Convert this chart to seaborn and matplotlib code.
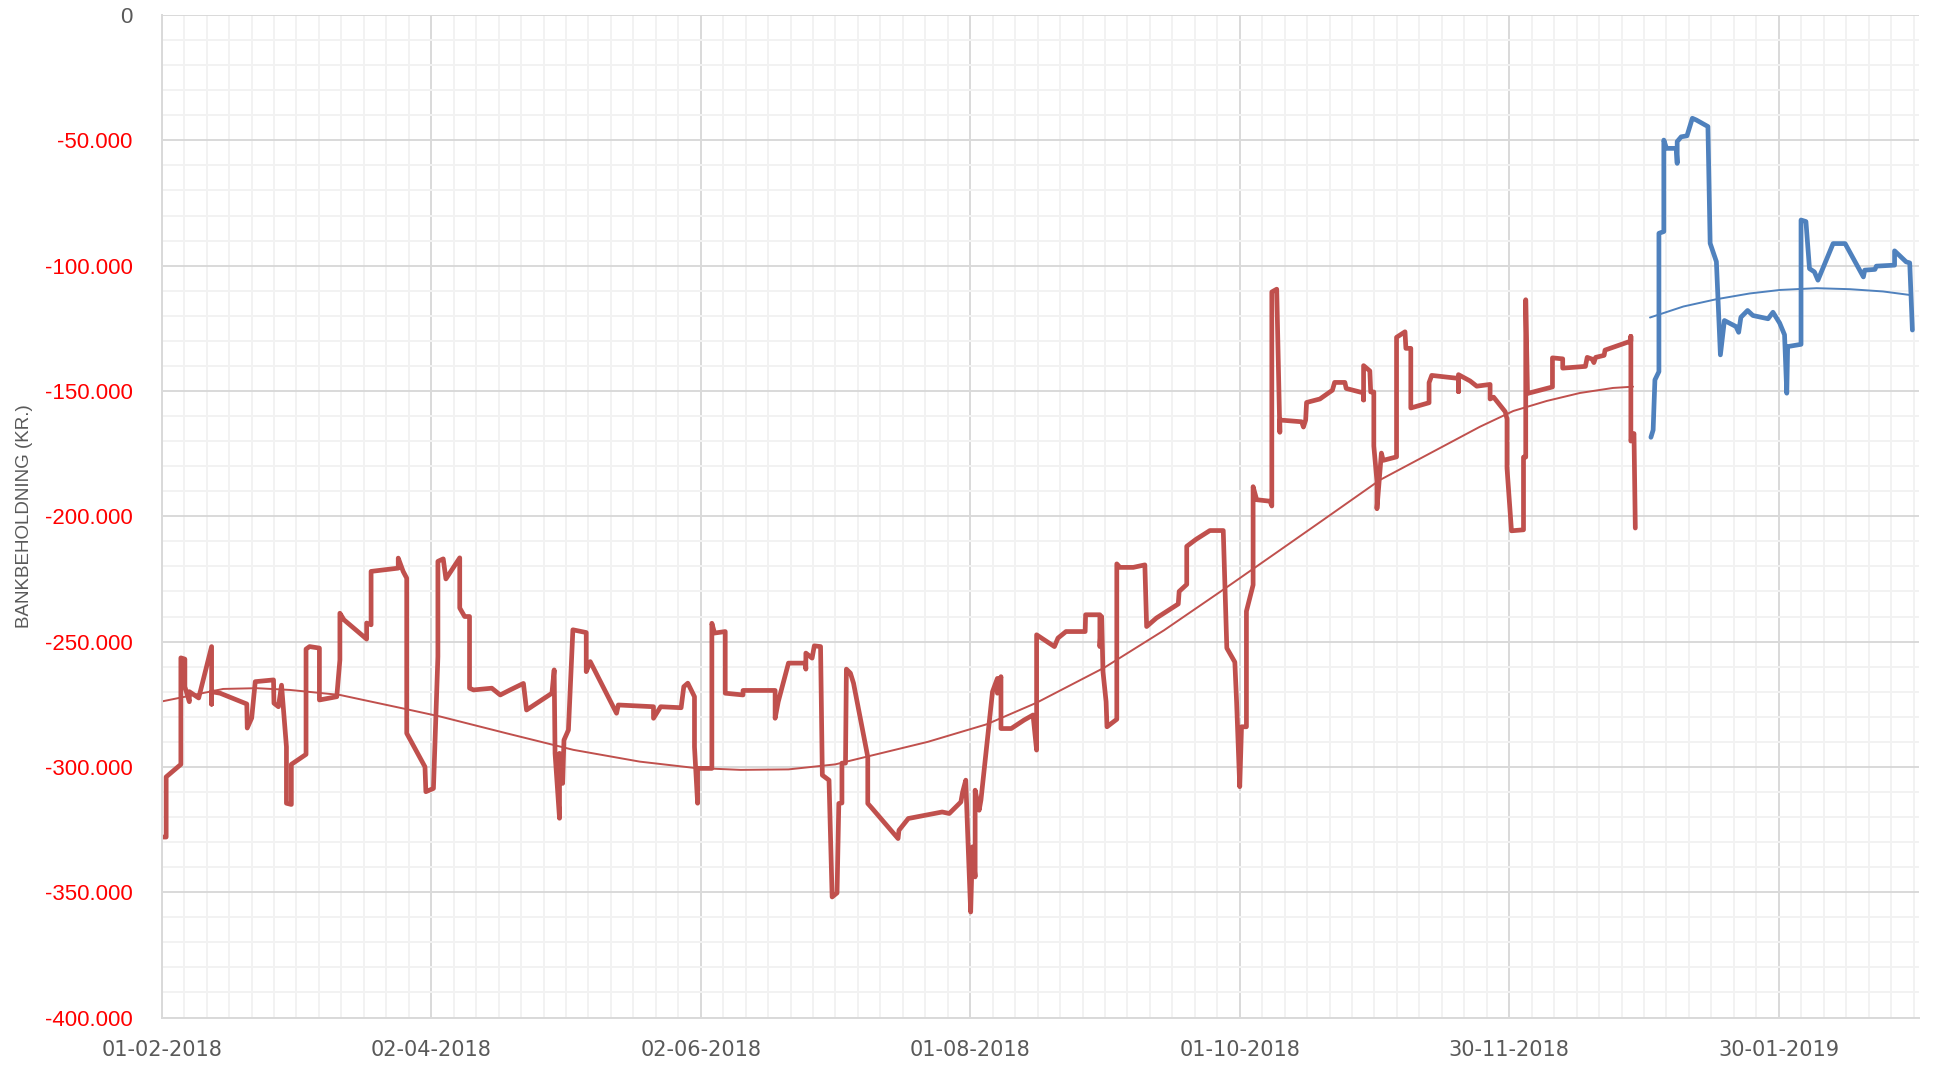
import numpy as np
import pandas as pd
import matplotlib
matplotlib.use('Agg')
import matplotlib.pyplot as plt
import matplotlib.dates as mdates
from matplotlib.ticker import FixedLocator
import seaborn as sns

start = pd.Timestamp('2018-02-01')

# bankbeholdning 2018 (dage efter 01-02-2018, saldo i 1000 kr.)
red_dage = [0.4, 1.0, 1.0, 4.3, 4.3, 5.2, 5.2, 6.2, 6.2, 8.3, 11.2, 11.2, 11.2, 13.1, 19.1, 19.2, 20.2, 21.0,
            25.1, 25.2, 26.2, 26.9, 28.0, 28.0, 29.1, 29.1, 32.4, 32.4, 33.2, 35.4, 35.4, 39.3, 40.0, 40.0,
            40.9, 46.0, 46.0, 47.0, 47.0, 53.1, 53.1, 54.2, 55.0, 55.0, 59.1, 59.3, 61.0, 62.0, 62.0, 63.2,
            63.8, 66.9, 66.9, 68.0, 69.1, 69.1, 70.0, 74.1, 76.0, 78.2, 81.2, 81.9, 87.6, 88.1, 88.3, 89.3,
            89.3, 90.0, 90.3, 91.3, 92.3, 95.3, 95.3, 96.2, 102.1, 102.5, 110.4, 110.4, 112.0, 116.6, 117.2,
            118.1, 119.6, 119.6, 120.3, 120.3, 123.5, 123.5, 124.1, 126.5, 126.5, 130.5, 130.5, 137.7, 137.7,
            138.4, 140.7, 144.5, 144.6, 144.6, 146.0, 146.5, 147.9, 148.3, 149.8, 150.5, 151.6, 152.0, 152.7,
            152.7, 153.5, 153.7, 154.6, 155.3, 158.5, 158.5, 159.5, 165.3, 165.5, 167.6, 175.2, 176.8, 179.4,
            179.8, 180.5, 180.9, 181.6, 182.0, 182.6, 182.6, 183.5, 183.9, 186.5, 187.6, 187.6, 188.4, 188.4,
            190.7, 193.6, 195.6, 196.4, 196.4, 200.4, 201.2, 203.0, 207.3, 207.4, 210.6, 210.6, 211.0, 211.3,
            212.0, 212.2, 214.4, 214.4, 215.1, 218.1, 220.7, 221.1, 223.3, 228.2, 228.4, 230.1, 230.1, 232.2,
            235.3, 238.3, 239.1, 240.9, 241.3, 242.0, 242.4, 243.5, 243.5, 244.1, 245.0, 245.0, 245.8, 248.8,
            249.2, 249.2, 250.3, 251.0, 251.0, 255.9, 256.3, 256.8, 257.0, 260.0, 262.8, 263.3, 265.6, 265.9,
            269.8, 269.8, 269.8, 271.2, 271.4, 272.1, 272.1, 272.8, 272.8, 273.8, 274.2, 277.2, 277.2, 279.1,
            279.3, 280.4, 280.4, 284.5, 284.5, 285.1, 291.1, 291.1, 291.1, 293.7, 295.2, 298.2, 298.2, 299.0,
            301.6, 302.0, 302.0, 303.0, 305.7, 305.7, 306.2, 306.2, 306.6, 312.2, 312.2, 314.5, 314.5, 319.6,
            320.0, 321.1, 321.5, 321.9, 323.8, 324.0, 329.8, 329.8, 329.8, 330.5, 330.8]
red_saldo = [-328, -328, -304, -299, -256.5, -257, -268, -274, -270, -272.5, -252, -275, -270, -270.6, -274.9,
             -284.5, -280.5, -266, -265.3, -274.6, -276, -267.4, -292, -314.5, -315, -299, -295, -253, -252,
             -252.6, -273.3, -272, -257.3, -238.7, -241.3, -249, -242.6, -243.3, -222, -220.7, -216.7, -222,
             -224.7, -286.6, -300, -309.9, -308.6, -256, -218, -217, -225, -216.6, -236.6, -240, -240, -268.6,
             -269.3, -268.6, -271.3, -269.3, -266.7, -277.3, -270.6, -261.3, -294.6, -320.5, -294.6, -306.6,
             -289.3, -285.3, -245.3, -246.4, -262, -258, -278.6, -275.3, -276, -280.6, -276, -276.4, -268,
             -266.6, -272, -292, -314.5, -300.6, -300.6, -242.7, -246.6, -246, -270.6, -271.3, -269.5, -269.5,
             -280.6, -274, -258.6, -258.6, -261, -254.6, -256.6, -251.7, -252, -303.3, -305.3, -351.9, -350.3,
             -314.6, -314.4, -298.5, -298.5, -261, -262.6, -266.6, -296, -314.6, -316.6, -328.6, -325.3,
             -320.6, -318, -318.6, -314, -310, -305.3, -325.3, -357.9, -331.9, -343.9, -309.3, -317.3, -313.3,
             -270, -264.7, -270.6, -264, -284.7, -284.7, -281.3, -279.3, -293.3, -247.3, -252, -248.6, -246,
             -246, -239.3, -239.3, -252, -240, -262, -274, -284, -281, -219, -220.4, -220.4, -219.4, -244,
             -240.6, -235, -230, -227.2, -212, -209.2, -205.7, -205.7, -252.6, -258.2, -274.3, -307.9, -284,
             -284, -237.9, -233.7, -227.4, -188.2, -193.4, -194, -195.9, -110.5, -109.4, -166.5, -161.6,
             -162.3, -164.4, -161.6, -154.6, -153.2, -149.7, -146.6, -146.6, -149, -150.8, -153.6, -139.9,
             -142, -150.4, -150.4, -172, -186, -197, -174.8, -177.7, -176.3, -128.6, -126.4, -133, -133,
             -156.8, -154.7, -146.7, -143.8, -145, -150.3, -143.5, -146, -148.1, -147.4, -153.2, -152.5,
             -158.3, -161.2, -180.8, -205.8, -205.4, -176.4, -176.4, -113.6, -151, -148.4, -136.8, -137.2,
             -140.9, -140.2, -136.6, -137.3, -138.7, -136.6, -135.8, -133.7, -130.1, -128.2, -170, -167,
             -204.7]

# bankbeholdning 2019
blue_dage = [334.3, 334.8, 335.2, 336.1, 336.1, 337.2, 337.2, 337.8, 340.0, 340.2, 340.2, 341.1, 342.4, 343.6,
             344.5, 347.1, 347.6, 349.0, 349.9, 350.8, 353.4, 354.0, 354.5, 356.0, 357.2, 360.6, 361.7, 363.2,
             364.3, 364.8, 365.0, 368.0, 368.0, 369.1, 369.9, 371.0, 371.8, 375.2, 377.9, 382.0, 382.3, 384.6,
             384.9, 389.0, 389.0, 391.6, 392.4, 393.0]
blue_saldo = [-168.5, -165.6, -145.6, -142.3, -87.1, -86.4, -49.9, -53.2, -53.2, -59.2, -50.5, -48.6, -48.2,
              -41.2, -41.9, -44.5, -91.1, -98.4, -135.6, -121.9, -124.3, -126.6, -120.6, -117.9, -119.9, -121.2,
              -118.6, -122.9, -127.6, -150.9, -132.3, -131.4, -81.8, -82.4, -101.2, -102.5, -105.8, -91.2,
              -91.2, -104.5, -101.8, -101.5, -100.2, -99.8, -94.1, -98.5, -98.9, -125.7]

# tendenslinjer
trend_red_dage = [0.0, 13.8, 21.3, 28.8, 40.0, 55.0, 62.5, 77.4, 92.4, 107.3, 119.5, 130.0, 140.7, 151.2, 158.8,
                  172.0, 185.2, 196.4, 211.6, 225.0, 238.3, 250.0, 260.7, 273.5, 284.7, 295.9, 303.4, 310.9,
                  318.4, 325.8, 330.3]
trend_red_saldo = [-273.9, -268.9, -268.6, -269.3, -271.3, -277, -279.9, -286.6, -293.2, -297.9, -300.4, -301.2,
                   -301, -299, -295.7, -290, -283, -274.4, -260.4, -245.5, -229.3, -214.8, -201.5, -185.5, -174.9,
                   -164.3, -158, -154, -150.8, -148.8, -148.3]
trend_blue_dage = [334.1, 341.6, 349.0, 356.5, 363.3, 371.5, 379.0, 386.4, 392.4]
trend_blue_saldo = [-120.7, -116.3, -113.4, -111.1, -109.7, -109.0, -109.4, -110.3, -111.7]

y_ticks = [0, -50000, -100000, -150000, -200000, -250000, -300000, -350000, -400000]
x_labels = ['01-02-2018', '02-04-2018', '02-06-2018', '01-08-2018', '01-10-2018', '30-11-2018', '30-01-2019']

farver = {'2018': '#C0504D', '2019': '#4F81BD'}


def lav_df(dage, saldo, serie):
    return pd.DataFrame({'dato': start + pd.to_timedelta(dage, unit='D'),
                         'saldo': np.array(saldo) * 1000,
                         'serie': serie})


saldo = pd.concat([lav_df(red_dage, red_saldo, '2018'), lav_df(blue_dage, blue_saldo, '2019')])
trend = pd.concat([lav_df(trend_red_dage, trend_red_saldo, '2018'),
                   lav_df(trend_blue_dage, trend_blue_saldo, '2019')])

sns.set_style('white')
plt.rcParams['font.family'] = ['Liberation Sans', 'DejaVu Sans']

fig = plt.figure(figsize=(19.35, 10.65), dpi=100)
ax = fig.add_axes([0.08357, 0.0446, 0.9082, 0.9413])

sns.lineplot(data=saldo, x='dato', y='saldo', hue='serie', palette=farver, sort=False, estimator=None,
             linewidth=3.4, legend=False, ax=ax, solid_joinstyle='round', solid_capstyle='round')
sns.lineplot(data=trend, x='dato', y='saldo', hue='serie', palette=farver, sort=False, estimator=None,
             linewidth=1.4, legend=False, ax=ax)

# akser
x0 = mdates.date2num(start)
ax.set_xlim(x0, x0 + 394.5)
ax.set_ylim(-400000, 0)
ax.set_xticks(x0 + 60.5 * np.arange(len(x_labels)))
ax.set_xticklabels(x_labels, family=['DejaVu Sans'])
ax.xaxis.set_minor_locator(FixedLocator(x0 + 60.5 / 12 * np.arange(79)))
ax.set_yticks(y_ticks)
ax.set_yticklabels(['0' if v == 0 else f'{v:,.0f}'.replace(',', '.') for v in y_ticks])
ax.yaxis.set_minor_locator(FixedLocator(np.arange(-400000, 1, 10000)))

for lab, v in zip(ax.get_yticklabels(), y_ticks):
    lab.set_color('#595959' if v == 0 else '#FF0000')

ax.tick_params(axis='both', which='both', length=0)
ax.tick_params(axis='y', pad=21, labelsize=16)
ax.tick_params(axis='x', pad=16, labelsize=15, labelcolor='#595959')

ax.grid(which='major', color='#D9D9D9', linewidth=1.4)
ax.grid(which='minor', color='#F2F2F2', linewidth=1.4)
ax.set_axisbelow(True)

for s in ['top', 'right']:
    ax.spines[s].set_visible(False)
for s in ['left', 'bottom']:
    ax.spines[s].set_color('#D9D9D9')
    ax.spines[s].set_linewidth(1.4)

ax.set_xlabel('')
ax.set_ylabel('BANKBEHOLDNING (KR.)', fontsize=13.5, color='#595959', va='center')
ax.yaxis.set_label_coords(-0.078, 0.5)

fig.savefig('out.png', dpi=100)
